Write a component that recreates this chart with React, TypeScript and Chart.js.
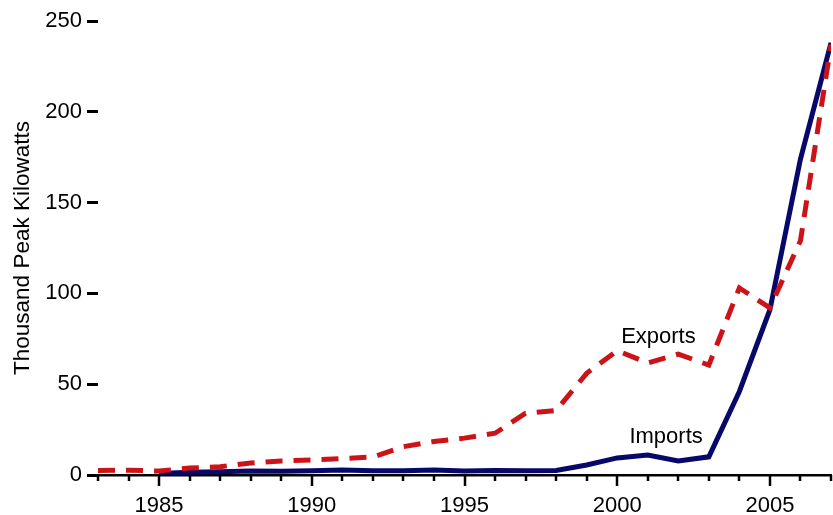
import React, { useEffect, useRef } from "react";
import { Chart, registerables } from "chart.js";

Chart.register(...registerables);

const years = [
  1983, 1984, 1985, 1986, 1987, 1988, 1989, 1990, 1991, 1992, 1993, 1994, 1995,
  1996, 1997, 1998, 1999, 2000, 2001, 2002, 2003, 2004, 2005, 2006, 2007,
];
const exportsSeries = [
  2.5, 2.6, 2.2, 3.8, 4.6, 6.6, 7.7, 8.3, 9.0, 9.9, 15.6, 18.4, 20.3, 23.0,
  34.0, 35.5, 56.0, 68.5, 61.7, 66.6, 60.5, 103.0, 92.0, 129.0, 237.0,
];
const importsSeries: (number | null)[] = [
  null, null, 0.8, 1.5, 1.8, 2.2, 2.0, 2.3, 2.8, 2.4, 2.4, 2.7, 2.2, 2.5, 2.4,
  2.5, 5.5, 9.4, 11.0, 7.7, 10.0, 46.0, 91.0, 174.0, 238.0,
];
const yTicks = [0, 50, 100, 150, 200, 250];
const annotationLabels = ["Exports", "Imports"];
const annotationX = [2001.35, 2001.6];
const annotationY = [76, 21];

const FONT = "'Liberation Sans', Arial, Helvetica, sans-serif";

export default function App() {
  const ref = useRef<HTMLCanvasElement | null>(null);

  useEffect(() => {
    if (!ref.current) return;
    const tickPlugin = {
      id: "xTicksAndLabels",
      afterDraw(chart: any) {
        const ctx = chart.ctx;
        const x = chart.scales.x;
        const y = chart.scales.y;
        const bottom = chart.chartArea.bottom;
        ctx.save();
        ctx.strokeStyle = "#000";
        ctx.lineWidth = 2.5;
        for (const yr of years) {
          const px = Math.round(x.getPixelForValue(yr));
          const len = yr % 5 === 0 ? 11 : 6;
          ctx.beginPath();
          ctx.moveTo(px, bottom);
          ctx.lineTo(px, bottom + len);
          ctx.stroke();
        }
        ctx.fillStyle = "#000";
        ctx.font = `22px ${FONT}`;
        ctx.textAlign = "center";
        ctx.textBaseline = "middle";
        annotationLabels.forEach((t, i) => {
          ctx.fillText(t, x.getPixelForValue(annotationX[i]), y.getPixelForValue(annotationY[i]));
        });
        ctx.restore();
      },
    };

    const chart = new Chart(ref.current, {
      type: "line",
      data: {
        datasets: [
          {
            label: "Exports",
            data: years.map((yr, i) => ({ x: yr, y: exportsSeries[i] })),
            borderColor: "#cc1418",
            borderWidth: 5,
            borderDash: [17, 11],
            pointRadius: 0,
            tension: 0,
            fill: false,
          },
          {
            label: "Imports",
            data: years.map((yr, i) => ({ x: yr, y: importsSeries[i] })),
            borderColor: "#08086a",
            borderWidth: 5,
            pointRadius: 0,
            tension: 0,
            fill: false,
          },
        ],
      },
      options: {
        animation: false,
        responsive: true,
        maintainAspectRatio: false,
        layout: { padding: { top: 21, right: 2, left: 0, bottom: 0 } },
        plugins: { legend: { display: false }, tooltip: { enabled: false } },
        scales: {
          x: {
            type: "linear",
            min: 1983,
            max: 2007,
            afterFit: (s: any) => {
              s.height = 40;
            },
            afterBuildTicks: (s: any) => {
              s.ticks = years.filter((v) => v % 5 === 0).map((v) => ({ value: v }));
            },
            ticks: {
              color: "#000",
              font: { family: FONT, size: 22 },
              padding: 18,
              maxRotation: 0,
              autoSkip: false,
              callback: (v: any) => String(v),
            },
            grid: { display: false, drawTicks: false, tickLength: 0 },
            border: { display: true, color: "#000", width: 2.5 },
          },
          y: {
            min: 0,
            max: 250,
            afterFit: (s: any) => {
              s.width = 98;
            },
            afterBuildTicks: (s: any) => {
              s.ticks = yTicks.map((v) => ({ value: v }));
            },
            ticks: {
              color: "#000",
              font: { family: FONT, size: 22 },
              padding: 5,
            },
            grid: {
              display: true,
              drawOnChartArea: false,
              drawTicks: true,
              tickLength: 11,
              color: "#000",
              lineWidth: 3,
            },
            border: { display: false },
            title: {
              display: true,
              text: "Thousand Peak Kilowatts",
              color: "#000",
              font: { family: FONT, size: 22.5 },
              padding: { top: 9, bottom: 0 },
            },
          },
        },
      },
      plugins: [tickPlugin],
    });
    return () => chart.destroy();
  }, []);

  return (
    <div style={{ position: "absolute", left: 0, top: 0, width: 833, height: 515, background: "#fff" }}>
      <canvas ref={ref} />
    </div>
  );
}
